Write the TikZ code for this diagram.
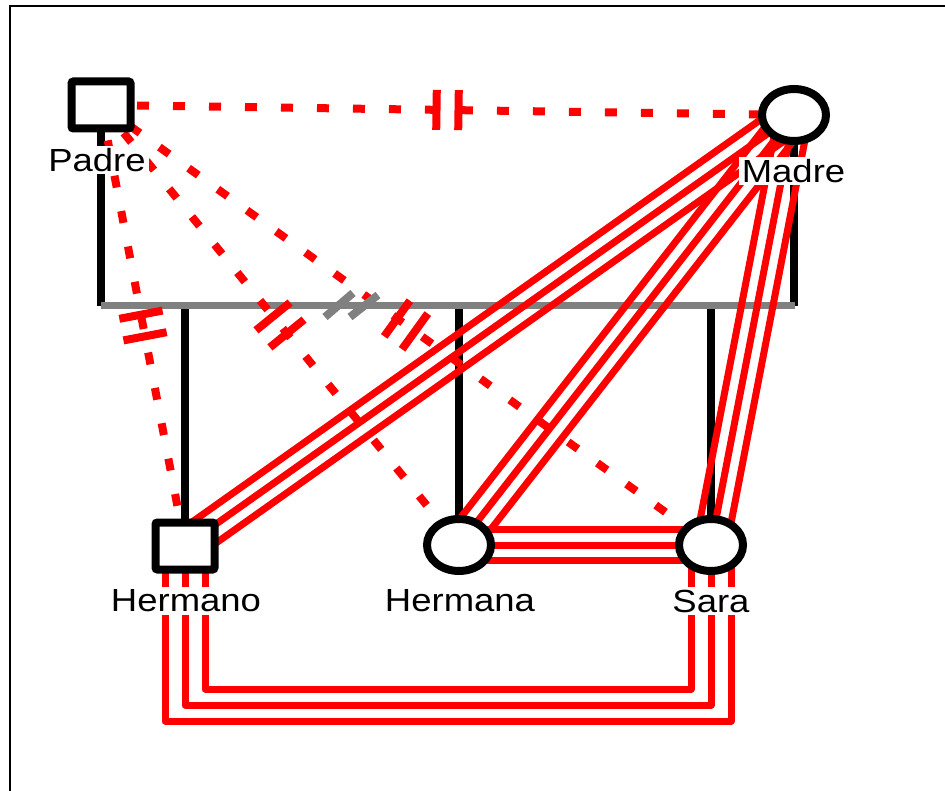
\documentclass[tikz,border=0pt]{standalone}
\usepackage{fontspec}
\setmainfont{Liberation Sans}
\usetikzlibrary{shapes.geometric,calc}
\pgfdeclarelayer{fam}
\pgfdeclarelayer{rel}
\pgfsetlayers{fam,rel,main}
\definecolor{rr}{RGB}{255,0,0}
\definecolor{gg}{RGB}{128,128,128}
\begin{document}
\begin{tikzpicture}[x=1pt,y=-1pt,
  male/.style={draw,line width=8pt,fill=white,minimum width=59pt,minimum height=47pt,inner sep=0pt,rounded corners=2pt},
  female/.style={ellipse,draw,line width=8pt,fill=white,minimum width=64pt,minimum height=52pt,inner sep=0pt},
  lab/.style={fill=white,inner sep=2.5pt,font=\fontsize{32}{38}\selectfont,xscale=1.14},
  famline/.style={line width=8pt,black},
  marline/.style={line width=7pt,gg},
  distant/.style={line width=8pt,rr,dash pattern=on 12pt off 24pt},
  cutbar/.style={line width=8pt,rr},
  fused/.style={line width=7pt,rr,line join=round},
  divorce/.style={line width=8pt,gg}
]
\useasboundingbox (0,0) rectangle (945,791);
\draw[line width=2.3pt] (10,800) -- (10,6) -- (950,6);

% persons
\node[male] (padre) at (101,105) {};
\node[female] (madre) at (794,115) {};
\node[male] (hermano) at (185,546) {};
\node[female] (hermana) at (459,545) {};
\node[female] (sara) at (711,545) {};

% family lines
\coordinate (mL) at (101,306);
\coordinate (mR) at (795,306);
\begin{pgfonlayer}{fam}
\draw[famline] (padre.center) -- (mL);
\draw[famline] (madre.center) -- (madre.center |- mL);
\draw[famline] (hermano.center |- mL) -- (hermano.center);
\draw[famline] (hermana.center |- mL) -- (hermana.center);
\draw[famline] (sara.center |- mL) -- (sara.center);
\draw[marline] (mL) -- (mR);
\end{pgfonlayer}

% distant / cutoff relations
\begin{pgfonlayer}{rel}
\foreach \t/\h in {madre/20pt,hermano/22pt,hermana/22pt,sara/22pt}{
  \draw[distant] (padre.center) -- (\t.center);
  \coordinate (m) at ($(padre.center)!0.5!(\t.center)$);
  \coordinate (ma) at ($(m)!11pt!(padre.center)$);
  \coordinate (mb) at ($(m)!11pt!(\t.center)$);
  \draw[cutbar] ($(ma)!\h!90:(\t.center)$) -- ($(ma)!\h!-90:(\t.center)$);
  \draw[cutbar] ($(mb)!\h!90:(\t.center)$) -- ($(mb)!\h!-90:(\t.center)$);
}
% fused relations
\foreach \a/\b in {madre/hermano,madre/hermana,madre/sara,hermana/sara}{
  \foreach \o in {-15.5pt,0pt,15.5pt}{
    \draw[fused] ($(\a.center)!\o!90:(\b.center)$) -- ($(\b.center)!\o!-90:(\a.center)$);
  }
}
\coordinate (b1) at (0,689);
\coordinate (b2) at (0,705);
\coordinate (b3) at (0,721);
\coordinate (h1) at ([xshift=20pt]hermano.center);
\coordinate (h3) at ([xshift=-20pt]hermano.center);
\coordinate (s1) at ([xshift=-20pt]sara.center);
\coordinate (s3) at ([xshift=20pt]sara.center);
\draw[fused] (h1) -- (h1 |- b1) -- (s1 |- b1) -- (s1);
\draw[fused] (hermano.center) -- (hermano.center |- b2) -- (sara.center |- b2) -- (sara.center);
\draw[fused] (h3) -- (h3 |- b3) -- (s3 |- b3) -- (s3);
\end{pgfonlayer}

% divorce marks
\coordinate (dv) at (351.5,306);
\draw[divorce] ($(dv)+(-26.5,11)$) -- ($(dv)+(1.5,-13)$);
\draw[divorce] ($(dv)+(-1.5,11)$) -- ($(dv)+(26.5,-11)$);

% labels
\node[lab] (lpadre) at (97,160) {Padre};
\node[lab] (lmadre) at (793.5,171) {Madre};
\node[lab] (lhermano) at (186,601) {Hermano};
\node[lab] (lhermana) at (460,601) {Hermana};
\node[lab] (lsara) at (711,601) {Sara};
\end{tikzpicture}
\end{document}
